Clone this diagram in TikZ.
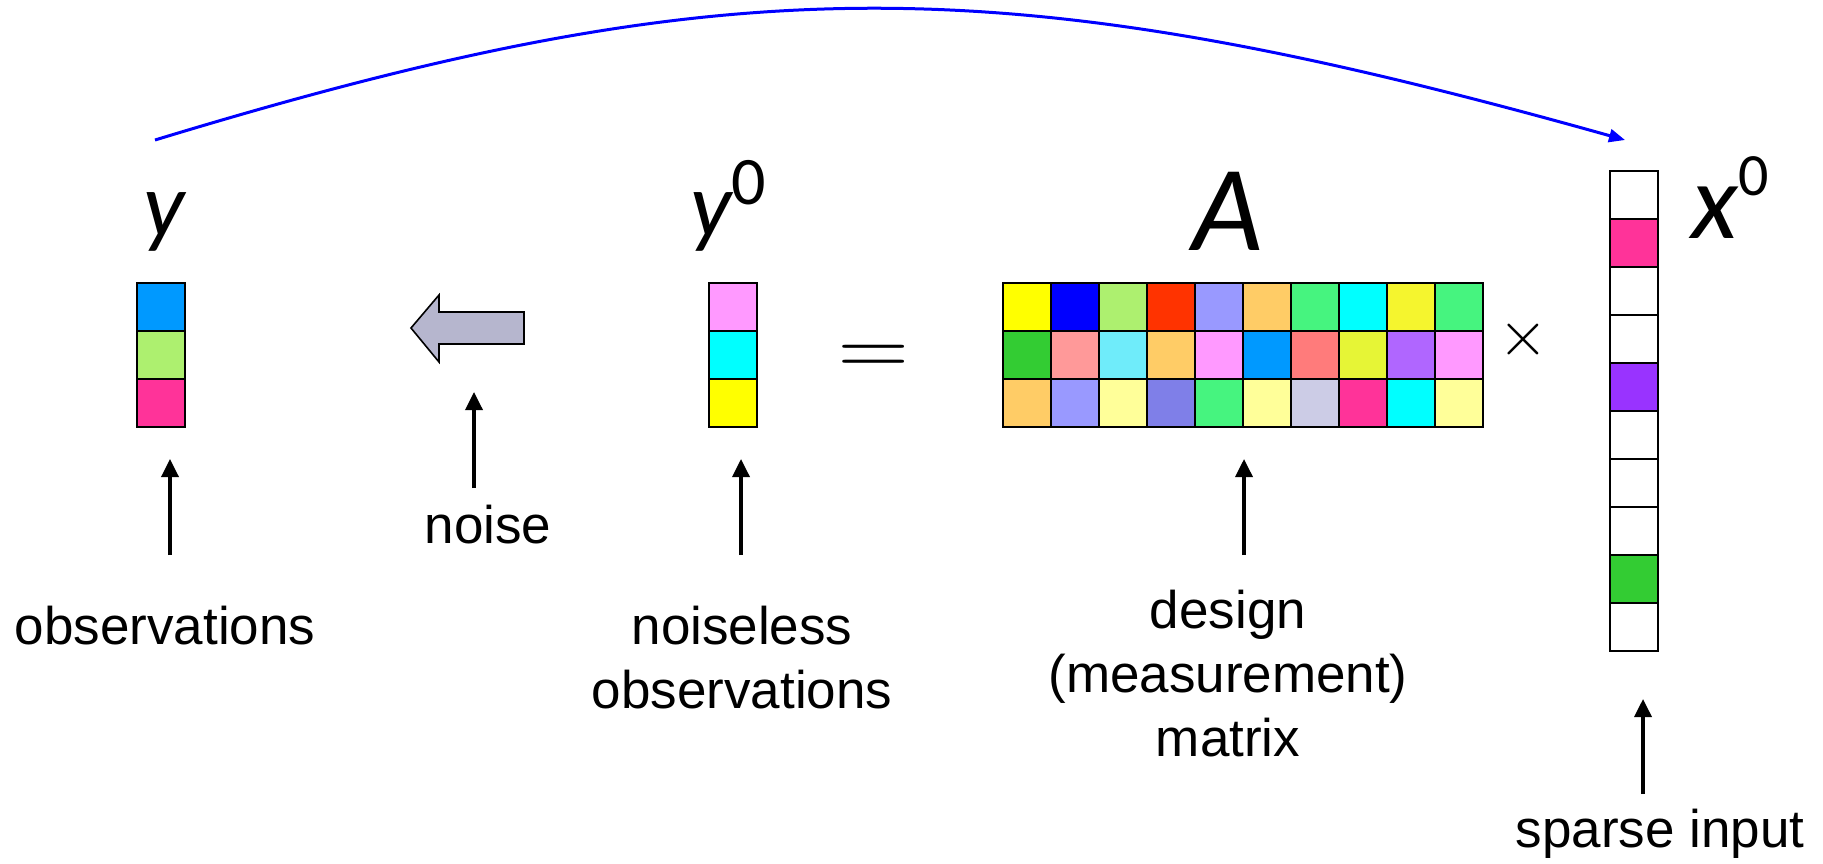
\documentclass[tikz,border=0pt]{standalone}
\usepackage{fontspec}
\setmainfont{Liberation Sans}
\newfontfamily\symfont{Carlito}
\usepackage{graphicx}
\usetikzlibrary{arrows.meta}
\definecolor{cyellow}{HTML}{FFFF00}
\definecolor{cblue}{HTML}{0000FF}
\definecolor{clime}{HTML}{ADF06F}
\definecolor{cred}{HTML}{FF3300}
\definecolor{clav}{HTML}{9999FF}
\definecolor{cpeach}{HTML}{FFCC66}
\definecolor{cmint}{HTML}{46F47F}
\definecolor{ccyan}{HTML}{00FFFF}
\definecolor{cyel}{HTML}{F5F52E}
\definecolor{cgreen}{HTML}{33CC33}
\definecolor{csalmon}{HTML}{FF9999}
\definecolor{csky}{HTML}{6FECFA}
\definecolor{cpink}{HTML}{FF99FF}
\definecolor{cazure}{HTML}{0099FF}
\definecolor{ccoral}{HTML}{FF7B7B}
\definecolor{cchart}{HTML}{E6F536}
\definecolor{cviolet}{HTML}{B066FF}
\definecolor{ccream}{HTML}{FFFF99}
\definecolor{cperi}{HTML}{7F7FE8}
\definecolor{cmist}{HTML}{CCCCE6}
\definecolor{cmagenta}{HTML}{FF3399}
\definecolor{cpurple}{HTML}{9933FF}
\definecolor{noisegray}{HTML}{B6B6CE}
\tikzset{
  cell/.style={draw=black,line width=1pt,minimum size=24pt,inner sep=0pt,outer sep=0pt},
  lbl/.style={font=\fontsize{26.5}{32}\selectfont,inner sep=0pt,align=center},
  sym/.style={inner sep=0pt,anchor=base},
  pointer/.style={-{Triangle[length=9pt,width=8.5pt]},line width=1.75pt},
  link/.style={-{Triangle[length=8pt,width=6.5pt]},line width=1.5pt,draw=cblue}
}
\begin{document}
\begin{tikzpicture}[x=0.5pt,y=-0.5pt]
  \useasboundingbox (0,0) rectangle (1823,863);
  % observations y
  \foreach \c [count=\i] in {cazure,clime,cmagenta}
    \node[cell,fill=\c] (y\i) at (161,259+48*\i) {};
  % noiseless observations y0
  \foreach \c [count=\i] in {cpink,ccyan,cyellow}
    \node[cell,fill=\c] (z\i) at (732.5,259+48*\i) {};
  % design matrix A
  \foreach \row [count=\i] in {{cyellow,cblue,clime,cred,clav,cpeach,cmint,ccyan,cyel,cmint},
                               {cgreen,csalmon,csky,cpeach,cpink,cazure,ccoral,cchart,cviolet,cpink},
                               {cpeach,clav,ccream,cperi,cmint,ccream,cmist,cmagenta,ccyan,ccream}}
    \foreach \c [count=\j] in \row
      \node[cell,fill=\c] (A-\i-\j) at (979+48*\j,259+48*\i) {};
  % sparse input x0
  \foreach \c [count=\i] in {white,cmagenta,white,white,cpurple,white,white,white,cgreen,white}
    \node[cell,fill=\c] (x\i) at (1634,147+48*\i) {};

  % symbols
  \node[sym,font=\symfont\itshape\fontsize{46}{50}\selectfont] (ylab) at (164,236) {y};
  \node[sym,font=\symfont\itshape\fontsize{46}{50}\selectfont] (zlab) at (728,236)
    {y\raisebox{16pt}{\fontsize{34}{38}\selectfont\upshape 0}};
  \node[sym,font=\symfont\itshape\fontsize{61}{66}\selectfont] (Alab) at (1228,250) {A};
  \node[sym,font=\symfont\itshape\fontsize{54}{60}\selectfont] (xlab) at (1730,238)
    {x\raisebox{21.5pt}{\fontsize{30}{34}\selectfont\upshape 0}};
  \node[sym,font=\fontsize{10}{12}\selectfont] (eq) at (874,373) {\scalebox{4.65}[3.85]{$=$}};
  \node[sym,font=\fontsize{10}{12}\selectfont] (times) at (1523,355) {\scalebox{3.2}{$\times$}};

  % noise block arrow
  \draw[fill=noisegray,line width=0.8pt] (411,328) -- (439,295) -- (439,312) -- (524,312)
    -- (524,344) -- (439,344) -- (439,362) -- cycle;
  \coordinate (block) at (474,362);

  % captions
  \node[lbl,anchor=base] (obs) at (165,644) {observations};
  \node[lbl,anchor=base] (noise) at (488,543) {noise};
  \node[lbl,anchor=north] (clean) at (742,606) {noiseless\\observations};
  \node[lbl,anchor=north] (design) at (1228,590) {design\\(measurement)\\matrix};
  \node[lbl,anchor=base] (sparse) at (1660,847) {sparse input};

  % pointers
  \coordinate (t1) at (170,555);
  \coordinate (t2) at (474,488);
  \coordinate (t3) at (741,555);
  \coordinate (t4) at (1244,555);
  \coordinate (t5) at (1643,794);
  \draw[pointer,shorten >=16pt] (t1) -- (t1 |- y3.south);
  \draw[pointer,shorten >=15pt] (t2) -- (t2 |- block);
  \draw[pointer,shorten >=16pt] (t3) -- (t3 |- z3.south);
  \draw[pointer,shorten >=16pt] (t4) -- (t4 |- A-3-1.south);
  \draw[pointer,shorten >=24pt] (t5) -- (t5 |- x10.south);

  % recovery arc
  \coordinate (arcstart) at (155,140);
  \coordinate (arcend) at (1625,140);
  \draw[link] (arcstart) .. controls (730,-35) and (1002,-35) .. (arcend);
\end{tikzpicture}
\end{document}
